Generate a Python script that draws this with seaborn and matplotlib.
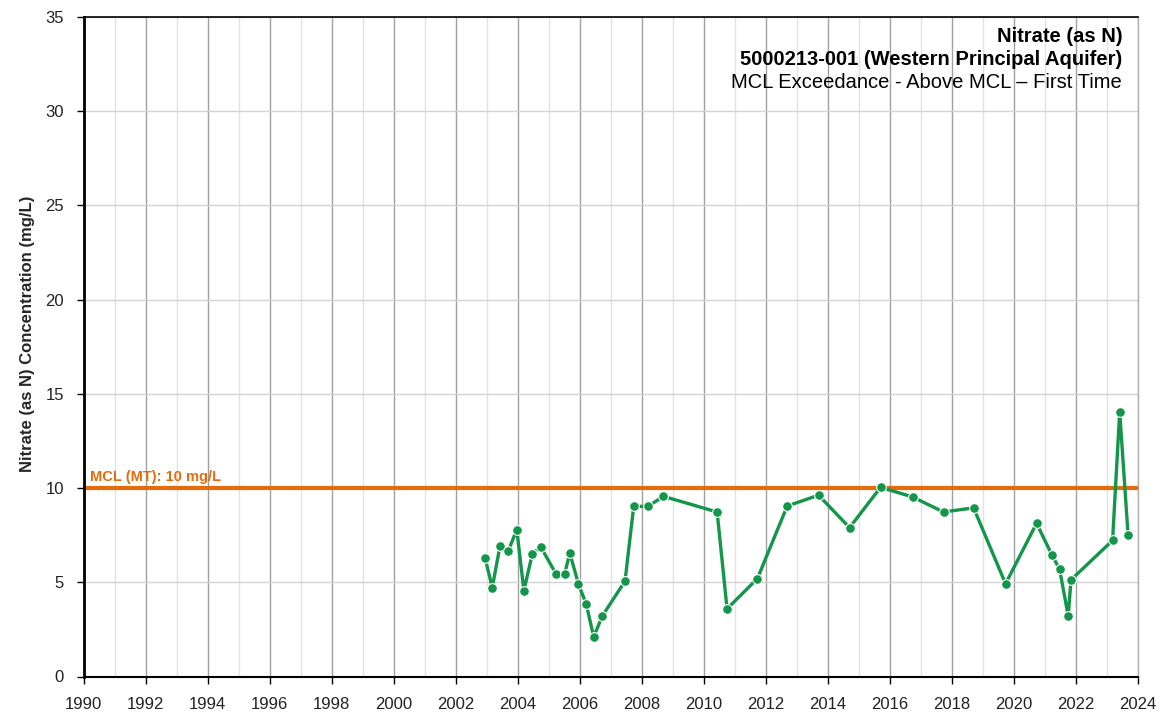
import matplotlib
matplotlib.use("Agg")
import matplotlib.pyplot as plt
import seaborn as sns
import pandas as pd
import numpy as np
from matplotlib.ticker import MultipleLocator

sns.set_theme(style="white")
plt.rcParams['font.family'] = ['Liberation Sans', 'DejaVu Sans']

years = [2002.95, 2003.18, 2003.43, 2003.69, 2003.97, 2004.20, 2004.47, 2004.74,
         2005.24, 2005.51, 2005.68, 2005.96, 2006.21, 2006.45, 2006.73, 2007.46,
         2007.74, 2008.20, 2008.70, 2010.43, 2010.75, 2011.73, 2012.69, 2013.70,
         2014.70, 2015.70, 2016.73, 2017.73, 2018.70, 2019.73, 2020.73, 2021.23,
         2021.47, 2021.75, 2021.84, 2023.18, 2023.41, 2023.68]
nitrate = [6.27, 4.72, 6.94, 6.64, 7.79, 4.56, 6.50, 6.89,
           5.43, 5.43, 6.55, 4.90, 3.84, 2.10, 3.22, 5.06,
           9.03, 9.03, 9.56, 8.73, 3.59, 5.20, 9.05, 9.62,
           7.90, 10.04, 9.53, 8.73, 8.95, 4.92, 8.13, 6.43,
           5.70, 3.22, 5.13, 7.22, 14.05, 7.51]
mcl_value = 10
title_lines = ["Nitrate (as N)", "5000213-001 (Western Principal Aquifer)",
               "MCL Exceedance - Above MCL \u2013 First Time"]
ylabel = "Nitrate (as N) Concentration (mg/L)"
mcl_label = "MCL (MT): 10 mg/L"

df = pd.DataFrame({"year": years, "nitrate": nitrate})

fig = plt.figure(figsize=(11.75, 7.14), dpi=100)
ax = fig.add_axes([83.5/1175, 1 - 676.5/714, (1138 - 83.5)/1175, (676.5 - 17)/714])

green = "#13964a"
orange = "#e46c0a"

ax.set_xlim(1990, 2024)
ax.set_ylim(0, 35)
ax.xaxis.set_major_locator(MultipleLocator(2))
ax.xaxis.set_minor_locator(MultipleLocator(1))
ax.yaxis.set_major_locator(MultipleLocator(5))
ax.grid(True, which="major", axis="x", color="#a0a0a0", linewidth=1.0, zorder=0)
ax.grid(True, which="minor", axis="x", color="#e2e2e2", linewidth=1.0, zorder=0)
ax.grid(True, which="major", axis="y", color="#d2d2d2", linewidth=1.0, zorder=0)
ax.set_axisbelow(True)

ax.axhline(mcl_value, color=orange, linewidth=3, zorder=2)
ax.text(1990.2, mcl_value + 0.2, mcl_label, color=orange, fontsize=10.5,
        fontweight="bold", ha="left", va="bottom", zorder=3)

sns.lineplot(data=df, x="year", y="nitrate", ax=ax, color=green, linewidth=2.4,
             marker="o", markersize=7, markeredgecolor="white", markeredgewidth=0.8,
             zorder=4)

ax.set_xlabel("")
ax.set_ylabel(ylabel, fontsize=12, fontweight="bold")
ax.yaxis.set_label_coords(-0.046, 0.52)
ax.tick_params(axis="both", which="major", labelsize=12, length=5, width=1,
               direction="out", colors="black", bottom=True, left=True)
ax.tick_params(axis="x", which="major", pad=10)
ax.tick_params(axis="y", which="major", pad=9)
ax.tick_params(axis="x", which="minor", length=0)
for lab in ax.get_xticklabels() + ax.get_yticklabels():
    lab.set_color("#222222")

for side in ["left", "bottom", "top"]:
    ax.spines[side].set_color("black")
ax.spines["left"].set_linewidth(2)
ax.spines["bottom"].set_linewidth(1.5)
ax.spines["top"].set_linewidth(1.2)
ax.spines["right"].set_color("#b0b0b0")
ax.spines["right"].set_linewidth(1)

tx = 0.985
ax.text(tx, 0.962, title_lines[0], transform=ax.transAxes, ha="right", va="baseline",
        fontsize=14.5, fontweight="bold", color="black")
ax.text(tx, 0.927, title_lines[1], transform=ax.transAxes, ha="right", va="baseline",
        fontsize=14.5, fontweight="bold", color="black")
ax.text(tx, 0.893, title_lines[2], transform=ax.transAxes, ha="right", va="baseline",
        fontsize=14.5, color="black")

fig.savefig("out.png", dpi=100)
